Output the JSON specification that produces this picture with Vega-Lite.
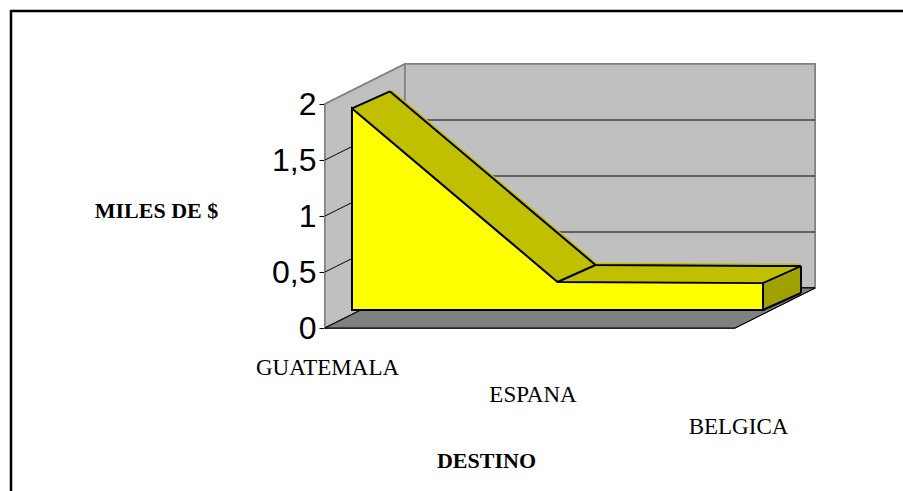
{
  "$schema": "https://vega.github.io/schema/vega-lite/v6.json",
  "width": 895,
  "height": 485,
  "autosize": {"type": "none"},
  "padding": {"left": 11, "top": 11, "right": 0, "bottom": 0},
  "background": "white",
  "config": {"view": {"stroke": "black", "strokeWidth": 2.5, "fill": "white"}},
  "resolve": {"axis": {"x": "independent", "y": "independent"}},
  "datasets": {
    "destinos": [
      {"destino": "GUATEMALA", "valor": 1.8},
      {"destino": "ESPANA", "valor": 0.25},
      {"destino": "BELGICA", "valor": 0.24}
    ],
    "cuadricula": [{"v": 0.5}, {"v": 1}, {"v": 1.5}]
  },
  "layer": [
    {
      "data": {"name": "destinos"},
      "mark": {"type": "point", "shape": "M -0.303 -0.697 L -0.303 1 L 0.303 0.697 L 0.303 -1 Z", "size": 69696, "filled": true, "fill": "#C0C0C0", "stroke": "#808080", "strokeWidth": 1.5, "opacity": 1, "xOffset": 13, "yOffset": -20},
      "encoding": {
        "x": {"datum": "GUATEMALA", "type": "nominal", "scale": {"type": "point", "domain": ["GUATEMALA", "ESPANA", "BELGICA"], "range": [341, 752], "padding": 0}, "axis": null},
        "y": {"datum": 1, "type": "quantitative", "scale": {"domain": [0, 2], "range": [317, 93]}, "axis": null}
      }
    },
    {
      "data": {"name": "destinos"},
      "mark": {"type": "rect", "fill": "#C0C0C0", "stroke": "#808080", "strokeWidth": 1.5, "xOffset": 53, "x2Offset": 52, "yOffset": -40, "y2Offset": -40},
      "encoding": {
        "x": {"datum": "GUATEMALA", "type": "nominal", "scale": {"type": "point", "domain": ["GUATEMALA", "ESPANA", "BELGICA"], "range": [341, 752], "padding": 0}, "axis": null},
        "x2": {"datum": "BELGICA"},
        "y": {"datum": 2, "type": "quantitative", "scale": {"domain": [0, 2], "range": [317, 93]}, "axis": null},
        "y2": {"datum": 0}
      }
    },
    {
      "data": {"name": "destinos"},
      "mark": {"type": "point", "shape": "M -1 0.0816 L -0.6735 -0.0816 L 1 -0.0816 L 0.6735 0.0816 Z", "size": 240100, "filled": true, "fill": "#808080", "stroke": "black", "strokeWidth": 1, "opacity": 1, "xOffset": 12.5, "yOffset": -20},
      "encoding": {
        "x": {"datum": "ESPANA", "type": "nominal", "scale": {"type": "point", "domain": ["GUATEMALA", "ESPANA", "BELGICA"], "range": [341, 752], "padding": 0}, "axis": null},
        "y": {"datum": 0, "type": "quantitative", "scale": {"domain": [0, 2], "range": [317, 93]}, "axis": null}
      }
    },
    {
      "data": {"name": "cuadricula"},
      "mark": {"type": "rule", "stroke": "black", "strokeWidth": 1, "xOffset": 53, "x2Offset": 52, "yOffset": -40},
      "encoding": {
        "x": {"datum": "GUATEMALA", "type": "nominal", "scale": {"type": "point", "domain": ["GUATEMALA", "ESPANA", "BELGICA"], "range": [341, 752], "padding": 0}, "axis": null},
        "x2": {"datum": "BELGICA"},
        "y": {"field": "v", "type": "quantitative", "scale": {"domain": [0, 2], "range": [317, 93]}, "axis": null}
      }
    },
    {
      "data": {"name": "cuadricula"},
      "mark": {"type": "rule", "stroke": "black", "strokeWidth": 1, "xOffset": -27, "x2Offset": 53, "y2Offset": -40},
      "encoding": {
        "x": {"datum": "GUATEMALA", "type": "nominal", "scale": {"type": "point", "domain": ["GUATEMALA", "ESPANA", "BELGICA"], "range": [341, 752], "padding": 0}, "axis": null},
        "x2": {"datum": "GUATEMALA"},
        "y": {"field": "v", "type": "quantitative", "scale": {"domain": [0, 2], "range": [317, 93]}, "axis": null},
        "y2": {"field": "v"}
      }
    },
    {"data": {"name": "destinos"}, "mark": {"type": "area", "fill": "#A0A000", "xOffset": 38, "yOffset": -35, "y2Offset": -35},
      "encoding": {"x": {"field": "destino", "type": "nominal", "scale": {"type": "point", "domain": ["GUATEMALA", "ESPANA", "BELGICA"], "range": [341, 752], "padding": 0}, "axis": null}, "y": {"field": "valor", "type": "quantitative", "scale": {"domain": [0, 2], "range": [317, 93]}, "axis": null}, "y2": {"datum": 0}}},
    {"data": {"name": "destinos"}, "mark": {"type": "area", "fill": "#A0A000", "xOffset": 33.25, "yOffset": -32.875, "y2Offset": -32.875},
      "encoding": {"x": {"field": "destino", "type": "nominal", "scale": {"type": "point", "domain": ["GUATEMALA", "ESPANA", "BELGICA"], "range": [341, 752], "padding": 0}, "axis": null}, "y": {"field": "valor", "type": "quantitative", "scale": {"domain": [0, 2], "range": [317, 93]}, "axis": null}, "y2": {"datum": 0}}},
    {"data": {"name": "destinos"}, "mark": {"type": "area", "fill": "#A0A000", "xOffset": 28.5, "yOffset": -30.75, "y2Offset": -30.75},
      "encoding": {"x": {"field": "destino", "type": "nominal", "scale": {"type": "point", "domain": ["GUATEMALA", "ESPANA", "BELGICA"], "range": [341, 752], "padding": 0}, "axis": null}, "y": {"field": "valor", "type": "quantitative", "scale": {"domain": [0, 2], "range": [317, 93]}, "axis": null}, "y2": {"datum": 0}}},
    {"data": {"name": "destinos"}, "mark": {"type": "area", "fill": "#A0A000", "xOffset": 23.75, "yOffset": -28.625, "y2Offset": -28.625},
      "encoding": {"x": {"field": "destino", "type": "nominal", "scale": {"type": "point", "domain": ["GUATEMALA", "ESPANA", "BELGICA"], "range": [341, 752], "padding": 0}, "axis": null}, "y": {"field": "valor", "type": "quantitative", "scale": {"domain": [0, 2], "range": [317, 93]}, "axis": null}, "y2": {"datum": 0}}},
    {"data": {"name": "destinos"}, "mark": {"type": "area", "fill": "#A0A000", "xOffset": 19, "yOffset": -26.5, "y2Offset": -26.5},
      "encoding": {"x": {"field": "destino", "type": "nominal", "scale": {"type": "point", "domain": ["GUATEMALA", "ESPANA", "BELGICA"], "range": [341, 752], "padding": 0}, "axis": null}, "y": {"field": "valor", "type": "quantitative", "scale": {"domain": [0, 2], "range": [317, 93]}, "axis": null}, "y2": {"datum": 0}}},
    {"data": {"name": "destinos"}, "mark": {"type": "area", "fill": "#A0A000", "xOffset": 14.25, "yOffset": -24.375, "y2Offset": -24.375},
      "encoding": {"x": {"field": "destino", "type": "nominal", "scale": {"type": "point", "domain": ["GUATEMALA", "ESPANA", "BELGICA"], "range": [341, 752], "padding": 0}, "axis": null}, "y": {"field": "valor", "type": "quantitative", "scale": {"domain": [0, 2], "range": [317, 93]}, "axis": null}, "y2": {"datum": 0}}},
    {"data": {"name": "destinos"}, "mark": {"type": "area", "fill": "#A0A000", "xOffset": 9.5, "yOffset": -22.25, "y2Offset": -22.25},
      "encoding": {"x": {"field": "destino", "type": "nominal", "scale": {"type": "point", "domain": ["GUATEMALA", "ESPANA", "BELGICA"], "range": [341, 752], "padding": 0}, "axis": null}, "y": {"field": "valor", "type": "quantitative", "scale": {"domain": [0, 2], "range": [317, 93]}, "axis": null}, "y2": {"datum": 0}}},
    {"data": {"name": "destinos"}, "mark": {"type": "area", "fill": "#A0A000", "xOffset": 4.75, "yOffset": -20.125, "y2Offset": -20.125},
      "encoding": {"x": {"field": "destino", "type": "nominal", "scale": {"type": "point", "domain": ["GUATEMALA", "ESPANA", "BELGICA"], "range": [341, 752], "padding": 0}, "axis": null}, "y": {"field": "valor", "type": "quantitative", "scale": {"domain": [0, 2], "range": [317, 93]}, "axis": null}, "y2": {"datum": 0}}},
    {"data": {"name": "destinos"}, "mark": {"type": "line", "stroke": "#C0C000", "strokeWidth": 5, "xOffset": 38, "yOffset": -35},
      "encoding": {"x": {"field": "destino", "type": "nominal", "scale": {"type": "point", "domain": ["GUATEMALA", "ESPANA", "BELGICA"], "range": [341, 752], "padding": 0}, "axis": null}, "y": {"field": "valor", "type": "quantitative", "scale": {"domain": [0, 2], "range": [317, 93]}, "axis": null}}},
    {"data": {"name": "destinos"}, "mark": {"type": "line", "stroke": "#C0C000", "strokeWidth": 5, "xOffset": 34.2, "yOffset": -33.3},
      "encoding": {"x": {"field": "destino", "type": "nominal", "scale": {"type": "point", "domain": ["GUATEMALA", "ESPANA", "BELGICA"], "range": [341, 752], "padding": 0}, "axis": null}, "y": {"field": "valor", "type": "quantitative", "scale": {"domain": [0, 2], "range": [317, 93]}, "axis": null}}},
    {"data": {"name": "destinos"}, "mark": {"type": "line", "stroke": "#C0C000", "strokeWidth": 5, "xOffset": 30.4, "yOffset": -31.6},
      "encoding": {"x": {"field": "destino", "type": "nominal", "scale": {"type": "point", "domain": ["GUATEMALA", "ESPANA", "BELGICA"], "range": [341, 752], "padding": 0}, "axis": null}, "y": {"field": "valor", "type": "quantitative", "scale": {"domain": [0, 2], "range": [317, 93]}, "axis": null}}},
    {"data": {"name": "destinos"}, "mark": {"type": "line", "stroke": "#C0C000", "strokeWidth": 5, "xOffset": 26.6, "yOffset": -29.9},
      "encoding": {"x": {"field": "destino", "type": "nominal", "scale": {"type": "point", "domain": ["GUATEMALA", "ESPANA", "BELGICA"], "range": [341, 752], "padding": 0}, "axis": null}, "y": {"field": "valor", "type": "quantitative", "scale": {"domain": [0, 2], "range": [317, 93]}, "axis": null}}},
    {"data": {"name": "destinos"}, "mark": {"type": "line", "stroke": "#C0C000", "strokeWidth": 5, "xOffset": 22.8, "yOffset": -28.2},
      "encoding": {"x": {"field": "destino", "type": "nominal", "scale": {"type": "point", "domain": ["GUATEMALA", "ESPANA", "BELGICA"], "range": [341, 752], "padding": 0}, "axis": null}, "y": {"field": "valor", "type": "quantitative", "scale": {"domain": [0, 2], "range": [317, 93]}, "axis": null}}},
    {"data": {"name": "destinos"}, "mark": {"type": "line", "stroke": "#C0C000", "strokeWidth": 5, "xOffset": 19, "yOffset": -26.5},
      "encoding": {"x": {"field": "destino", "type": "nominal", "scale": {"type": "point", "domain": ["GUATEMALA", "ESPANA", "BELGICA"], "range": [341, 752], "padding": 0}, "axis": null}, "y": {"field": "valor", "type": "quantitative", "scale": {"domain": [0, 2], "range": [317, 93]}, "axis": null}}},
    {"data": {"name": "destinos"}, "mark": {"type": "line", "stroke": "#C0C000", "strokeWidth": 5, "xOffset": 15.2, "yOffset": -24.8},
      "encoding": {"x": {"field": "destino", "type": "nominal", "scale": {"type": "point", "domain": ["GUATEMALA", "ESPANA", "BELGICA"], "range": [341, 752], "padding": 0}, "axis": null}, "y": {"field": "valor", "type": "quantitative", "scale": {"domain": [0, 2], "range": [317, 93]}, "axis": null}}},
    {"data": {"name": "destinos"}, "mark": {"type": "line", "stroke": "#C0C000", "strokeWidth": 5, "xOffset": 11.4, "yOffset": -23.1},
      "encoding": {"x": {"field": "destino", "type": "nominal", "scale": {"type": "point", "domain": ["GUATEMALA", "ESPANA", "BELGICA"], "range": [341, 752], "padding": 0}, "axis": null}, "y": {"field": "valor", "type": "quantitative", "scale": {"domain": [0, 2], "range": [317, 93]}, "axis": null}}},
    {"data": {"name": "destinos"}, "mark": {"type": "line", "stroke": "#C0C000", "strokeWidth": 5, "xOffset": 7.6, "yOffset": -21.4},
      "encoding": {"x": {"field": "destino", "type": "nominal", "scale": {"type": "point", "domain": ["GUATEMALA", "ESPANA", "BELGICA"], "range": [341, 752], "padding": 0}, "axis": null}, "y": {"field": "valor", "type": "quantitative", "scale": {"domain": [0, 2], "range": [317, 93]}, "axis": null}}},
    {"data": {"name": "destinos"}, "mark": {"type": "line", "stroke": "#C0C000", "strokeWidth": 5, "xOffset": 3.8, "yOffset": -19.7},
      "encoding": {"x": {"field": "destino", "type": "nominal", "scale": {"type": "point", "domain": ["GUATEMALA", "ESPANA", "BELGICA"], "range": [341, 752], "padding": 0}, "axis": null}, "y": {"field": "valor", "type": "quantitative", "scale": {"domain": [0, 2], "range": [317, 93]}, "axis": null}}},
    {"data": {"name": "destinos"}, "mark": {"type": "line", "stroke": "black", "strokeWidth": 2, "xOffset": 38, "yOffset": -35},
      "encoding": {"x": {"field": "destino", "type": "nominal", "scale": {"type": "point", "domain": ["GUATEMALA", "ESPANA", "BELGICA"], "range": [341, 752], "padding": 0}, "axis": null}, "y": {"field": "valor", "type": "quantitative", "scale": {"domain": [0, 2], "range": [317, 93]}, "axis": null}}},
    {"data": {"name": "destinos"}, "transform": [{"filter": "datum.destino === 'BELGICA'"}],
      "mark": {"type": "rule", "stroke": "black", "strokeWidth": 2, "xOffset": 38, "yOffset": -35, "y2Offset": -35},
      "encoding": {"x": {"field": "destino", "type": "nominal", "scale": {"type": "point", "domain": ["GUATEMALA", "ESPANA", "BELGICA"], "range": [341, 752], "padding": 0}, "axis": null}, "y": {"field": "valor", "type": "quantitative", "scale": {"domain": [0, 2], "range": [317, 93]}, "axis": null}, "y2": {"datum": 0}}},
    {"data": {"name": "destinos"},
      "mark": {"type": "rule", "stroke": "black", "strokeWidth": 2, "yOffset": -18, "x2Offset": 38, "y2Offset": -35},
      "encoding": {"x": {"field": "destino", "type": "nominal", "scale": {"type": "point", "domain": ["GUATEMALA", "ESPANA", "BELGICA"], "range": [341, 752], "padding": 0}, "axis": null}, "x2": {"field": "destino"}, "y": {"field": "valor", "type": "quantitative", "scale": {"domain": [0, 2], "range": [317, 93]}, "axis": null}, "y2": {"field": "valor"}}},
    {"data": {"name": "destinos"}, "transform": [{"filter": "datum.destino === 'BELGICA'"}],
      "mark": {"type": "rule", "stroke": "black", "strokeWidth": 2, "yOffset": -18, "x2Offset": 38, "y2Offset": -35},
      "encoding": {"x": {"field": "destino", "type": "nominal", "scale": {"type": "point", "domain": ["GUATEMALA", "ESPANA", "BELGICA"], "range": [341, 752], "padding": 0}, "axis": null}, "x2": {"field": "destino"}, "y": {"datum": 0, "type": "quantitative", "scale": {"domain": [0, 2], "range": [317, 93]}, "axis": null}, "y2": {"datum": 0}}},
    {
      "data": {"name": "destinos"},
      "mark": {"type": "area", "fill": "#FFFF00", "stroke": "black", "strokeWidth": 2, "strokeJoin": "miter", "yOffset": -18, "y2Offset": -18},
      "encoding": {
        "x": {
          "field": "destino", "type": "nominal",
          "scale": {"type": "point", "domain": ["GUATEMALA", "ESPANA", "BELGICA"], "range": [341, 752], "padding": 0},
          "axis": {
            "orient": "bottom", "offset": -161, "domain": false, "ticks": false, "tickSize": 0,
            "labelAngle": 0, "labelFont": "Liberation Serif", "labelFontSize": 23, "labelColor": "black",
            "labelBaseline": "top", "labelOffset": -25,
            "labelPadding": {"condition": [{"test": "datum.value === 'ESPANA'", "value": 48}, {"test": "datum.value === 'BELGICA'", "value": 80}], "value": 21},
            "title": "DESTINO", "titleFont": "Liberation Serif", "titleFontSize": 22, "titleFontWeight": "bold", "titleColor": "black",
            "titleX": 475, "titleY": 125, "titleAlign": "center", "titleBaseline": "middle"
          }
        },
        "y": {
          "field": "valor", "type": "quantitative",
          "scale": {"domain": [0, 2], "range": [317, 93]},
          "axis": {
            "orient": "left", "offset": -314, "domain": false, "grid": false,
            "values": [0, 0.5, 1, 1.5, 2],
            "labelExpr": "replace(format(datum.value, '~g'), '.', ',')",
            "labelFont": "Liberation Sans", "labelFontSize": 32, "labelColor": "black", "labelPadding": 3,
            "ticks": true, "tickSize": 6, "tickColor": "black", "tickWidth": 1,
            "title": "MILES DE $", "titleFont": "Liberation Serif", "titleFontSize": 22, "titleFontWeight": "bold", "titleColor": "black",
            "titleAngle": 0, "titleX": -169, "titleY": 199, "titleAlign": "center", "titleBaseline": "middle"
          }
        },
        "y2": {"datum": 0}
      }
    }
  ]
}
